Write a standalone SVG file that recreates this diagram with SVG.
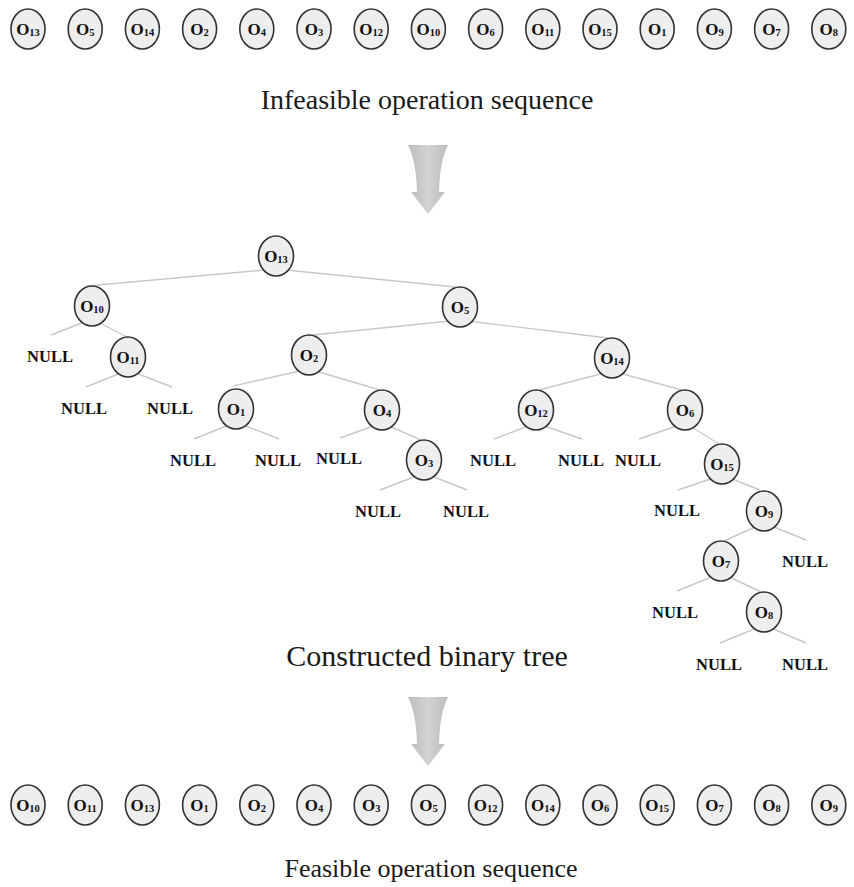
<svg xmlns="http://www.w3.org/2000/svg" width="854" height="887" viewBox="0 0 854 887">
  <style>
    .bg { fill: #ffffff; }
    .node ellipse { fill: #eeeeee; stroke: #333333; stroke-width: 1.6; }
    .lbl { font-family: "Liberation Serif", "Times New Roman", serif; font-weight: bold; font-size: 17px; fill: #111111; text-anchor: middle; }
    .sub { font-size: 10.5px; }
    .null { font-family: "Liberation Serif", "Times New Roman", serif; font-weight: bold; font-size: 16.5px; fill: #111111; text-anchor: middle; }
    .title { font-family: "Liberation Serif", "Times New Roman", serif; font-size: 28px; fill: #1a1a1a; text-anchor: middle; }
    #title-tree { font-size: 30px; }
    #title-out { font-size: 26px; }
    #edges line { stroke: #c8c8c8; stroke-width: 1.4; }
    .arrow { fill: url(#arrowFill); }
  </style>
  <defs>
    <linearGradient id="arrowFill" x1="0" y1="0" x2="1" y2="0">
      <stop offset="0" stop-color="#bcbcbc"/>
      <stop offset="0.5" stop-color="#d2d2d2"/>
      <stop offset="1" stop-color="#bcbcbc"/>
    </linearGradient>
    <path id="downArrow" d="M -20 0 L 20 0 Q 12 15 11 47 L 17 47 L 0 69 L -17 47 L -11 47 Q -12 15 -20 0 Z"/>
  </defs>
  <rect class="bg" x="0" y="0" width="854" height="887"/>

  <!-- input sequence -->
  <g id="seq-top">
    <g id="t1" class="node"><ellipse cx="28" cy="29" rx="17" ry="20"/><text class="lbl" x="28" y="35">O<tspan class="sub" dy="1">13</tspan></text></g>
    <g id="t2" class="node"><ellipse cx="85.2" cy="29" rx="17" ry="20"/><text class="lbl" x="85.2" y="35">O<tspan class="sub" dy="1">5</tspan></text></g>
    <g id="t3" class="node"><ellipse cx="142.4" cy="29" rx="17" ry="20"/><text class="lbl" x="142.4" y="35">O<tspan class="sub" dy="1">14</tspan></text></g>
    <g id="t4" class="node"><ellipse cx="199.6" cy="29" rx="17" ry="20"/><text class="lbl" x="199.6" y="35">O<tspan class="sub" dy="1">2</tspan></text></g>
    <g id="t5" class="node"><ellipse cx="256.8" cy="29" rx="17" ry="20"/><text class="lbl" x="256.8" y="35">O<tspan class="sub" dy="1">4</tspan></text></g>
    <g id="t6" class="node"><ellipse cx="314" cy="29" rx="17" ry="20"/><text class="lbl" x="314" y="35">O<tspan class="sub" dy="1">3</tspan></text></g>
    <g id="t7" class="node"><ellipse cx="371.2" cy="29" rx="17" ry="20"/><text class="lbl" x="371.2" y="35">O<tspan class="sub" dy="1">12</tspan></text></g>
    <g id="t8" class="node"><ellipse cx="428.4" cy="29" rx="17" ry="20"/><text class="lbl" x="428.4" y="35">O<tspan class="sub" dy="1">10</tspan></text></g>
    <g id="t9" class="node"><ellipse cx="485.6" cy="29" rx="17" ry="20"/><text class="lbl" x="485.6" y="35">O<tspan class="sub" dy="1">6</tspan></text></g>
    <g id="t10" class="node"><ellipse cx="542.8" cy="29" rx="17" ry="20"/><text class="lbl" x="542.8" y="35">O<tspan class="sub" dy="1">11</tspan></text></g>
    <g id="t11" class="node"><ellipse cx="600" cy="29" rx="17" ry="20"/><text class="lbl" x="600" y="35">O<tspan class="sub" dy="1">15</tspan></text></g>
    <g id="t12" class="node"><ellipse cx="657.2" cy="29" rx="17" ry="20"/><text class="lbl" x="657.2" y="35">O<tspan class="sub" dy="1">1</tspan></text></g>
    <g id="t13" class="node"><ellipse cx="714.4" cy="29" rx="17" ry="20"/><text class="lbl" x="714.4" y="35">O<tspan class="sub" dy="1">9</tspan></text></g>
    <g id="t14" class="node"><ellipse cx="771.6" cy="29" rx="17" ry="20"/><text class="lbl" x="771.6" y="35">O<tspan class="sub" dy="1">7</tspan></text></g>
    <g id="t15" class="node"><ellipse cx="828.8" cy="29" rx="17" ry="20"/><text class="lbl" x="828.8" y="35">O<tspan class="sub" dy="1">8</tspan></text></g>
  </g>
  <text id="title-in" class="title" x="427" y="109">Infeasible operation sequence</text>

  <use href="#downArrow" class="arrow" x="428" y="145"/>

  <!-- tree connectors -->
  <g id="edges">
    <line x1="276" y1="269" x2="87" y2="286"/>
    <line x1="276" y1="269" x2="455" y2="287"/>
    <line x1="92" y1="319" x2="51" y2="335"/>
    <line x1="92" y1="319" x2="127" y2="337"/>
    <line x1="128" y1="370" x2="86" y2="387"/>
    <line x1="128" y1="370" x2="172" y2="387"/>
    <line x1="460" y1="320" x2="313" y2="335"/>
    <line x1="460" y1="320" x2="608" y2="338"/>
    <line x1="309" y1="369" x2="233" y2="386"/>
    <line x1="309" y1="369" x2="380" y2="390"/>
    <line x1="236" y1="422" x2="194" y2="439"/>
    <line x1="236" y1="422" x2="279" y2="439"/>
    <line x1="382" y1="423" x2="340" y2="438"/>
    <line x1="382" y1="423" x2="421" y2="440"/>
    <line x1="424" y1="473" x2="380" y2="490"/>
    <line x1="424" y1="473" x2="467" y2="490"/>
    <line x1="612" y1="371" x2="539" y2="390"/>
    <line x1="612" y1="371" x2="682" y2="390"/>
    <line x1="536" y1="423" x2="494" y2="439"/>
    <line x1="536" y1="423" x2="582" y2="439"/>
    <line x1="685" y1="423" x2="639" y2="439"/>
    <line x1="685" y1="423" x2="719" y2="444"/>
    <line x1="722" y1="475" x2="678" y2="490"/>
    <line x1="722" y1="475" x2="760" y2="490"/>
    <line x1="764" y1="523" x2="724" y2="541"/>
    <line x1="764" y1="523" x2="806" y2="540"/>
    <line x1="721" y1="573" x2="677" y2="591"/>
    <line x1="721" y1="573" x2="761" y2="592"/>
    <line x1="764" y1="625" x2="720" y2="643"/>
    <line x1="764" y1="625" x2="806" y2="643"/>
  </g>

  <!-- tree nodes -->
  <g id="n13" class="node"><ellipse cx="276" cy="256" rx="17.5" ry="20"/><text class="lbl" x="276" y="262">O<tspan class="sub" dy="1">13</tspan></text></g>
  <g id="n10" class="node"><ellipse cx="92" cy="306" rx="17.5" ry="20"/><text class="lbl" x="92" y="312">O<tspan class="sub" dy="1">10</tspan></text></g>
  <g id="n5" class="node"><ellipse cx="460" cy="307" rx="17.5" ry="20"/><text class="lbl" x="460" y="313">O<tspan class="sub" dy="1">5</tspan></text></g>
  <g id="n11" class="node"><ellipse cx="128" cy="357" rx="17.5" ry="20"/><text class="lbl" x="128" y="363">O<tspan class="sub" dy="1">11</tspan></text></g>
  <g id="n2" class="node"><ellipse cx="309" cy="355" rx="17.5" ry="20"/><text class="lbl" x="309" y="361">O<tspan class="sub" dy="1">2</tspan></text></g>
  <g id="n14" class="node"><ellipse cx="612" cy="358" rx="17.5" ry="20"/><text class="lbl" x="612" y="364">O<tspan class="sub" dy="1">14</tspan></text></g>
  <g id="n1" class="node"><ellipse cx="236" cy="409" rx="17.5" ry="20"/><text class="lbl" x="236" y="415">O<tspan class="sub" dy="1">1</tspan></text></g>
  <g id="n4" class="node"><ellipse cx="382" cy="410" rx="17.5" ry="20"/><text class="lbl" x="382" y="416">O<tspan class="sub" dy="1">4</tspan></text></g>
  <g id="n12" class="node"><ellipse cx="536" cy="410" rx="17.5" ry="20"/><text class="lbl" x="536" y="416">O<tspan class="sub" dy="1">12</tspan></text></g>
  <g id="n6" class="node"><ellipse cx="685" cy="410" rx="17.5" ry="20"/><text class="lbl" x="685" y="416">O<tspan class="sub" dy="1">6</tspan></text></g>
  <g id="n3" class="node"><ellipse cx="424" cy="460" rx="17.5" ry="20"/><text class="lbl" x="424" y="466">O<tspan class="sub" dy="1">3</tspan></text></g>
  <g id="n15" class="node"><ellipse cx="722" cy="464" rx="17.5" ry="20"/><text class="lbl" x="722" y="470">O<tspan class="sub" dy="1">15</tspan></text></g>
  <g id="n9" class="node"><ellipse cx="764" cy="511" rx="17.5" ry="20"/><text class="lbl" x="764" y="517">O<tspan class="sub" dy="1">9</tspan></text></g>
  <g id="n7" class="node"><ellipse cx="721" cy="561" rx="17.5" ry="20"/><text class="lbl" x="721" y="567">O<tspan class="sub" dy="1">7</tspan></text></g>
  <g id="n8" class="node"><ellipse cx="764" cy="612" rx="17.5" ry="20"/><text class="lbl" x="764" y="618">O<tspan class="sub" dy="1">8</tspan></text></g>

  <!-- empty children -->
  <g id="nulls">
    <text class="null" x="50" y="362">NULL</text>
    <text class="null" x="84" y="414">NULL</text>
    <text class="null" x="170" y="414">NULL</text>
    <text class="null" x="193" y="466">NULL</text>
    <text class="null" x="278" y="466">NULL</text>
    <text class="null" x="339" y="464">NULL</text>
    <text class="null" x="378" y="517">NULL</text>
    <text class="null" x="466" y="517">NULL</text>
    <text class="null" x="493" y="466">NULL</text>
    <text class="null" x="581" y="466">NULL</text>
    <text class="null" x="638" y="466">NULL</text>
    <text class="null" x="677" y="516">NULL</text>
    <text class="null" x="805" y="567">NULL</text>
    <text class="null" x="675" y="618">NULL</text>
    <text class="null" x="719" y="670">NULL</text>
    <text class="null" x="805" y="670">NULL</text>
  </g>
  <text id="title-tree" class="title" x="427" y="666">Constructed binary tree</text>

  <use href="#downArrow" class="arrow" x="428" y="697"/>

  <!-- output sequence -->
  <g id="seq-bottom">
    <g id="b1" class="node"><ellipse cx="28" cy="805" rx="17" ry="20"/><text class="lbl" x="28" y="811">O<tspan class="sub" dy="1">10</tspan></text></g>
    <g id="b2" class="node"><ellipse cx="85.2" cy="805" rx="17" ry="20"/><text class="lbl" x="85.2" y="811">O<tspan class="sub" dy="1">11</tspan></text></g>
    <g id="b3" class="node"><ellipse cx="142.4" cy="805" rx="17" ry="20"/><text class="lbl" x="142.4" y="811">O<tspan class="sub" dy="1">13</tspan></text></g>
    <g id="b4" class="node"><ellipse cx="199.6" cy="805" rx="17" ry="20"/><text class="lbl" x="199.6" y="811">O<tspan class="sub" dy="1">1</tspan></text></g>
    <g id="b5" class="node"><ellipse cx="256.8" cy="805" rx="17" ry="20"/><text class="lbl" x="256.8" y="811">O<tspan class="sub" dy="1">2</tspan></text></g>
    <g id="b6" class="node"><ellipse cx="314" cy="805" rx="17" ry="20"/><text class="lbl" x="314" y="811">O<tspan class="sub" dy="1">4</tspan></text></g>
    <g id="b7" class="node"><ellipse cx="371.2" cy="805" rx="17" ry="20"/><text class="lbl" x="371.2" y="811">O<tspan class="sub" dy="1">3</tspan></text></g>
    <g id="b8" class="node"><ellipse cx="428.4" cy="805" rx="17" ry="20"/><text class="lbl" x="428.4" y="811">O<tspan class="sub" dy="1">5</tspan></text></g>
    <g id="b9" class="node"><ellipse cx="485.6" cy="805" rx="17" ry="20"/><text class="lbl" x="485.6" y="811">O<tspan class="sub" dy="1">12</tspan></text></g>
    <g id="b10" class="node"><ellipse cx="542.8" cy="805" rx="17" ry="20"/><text class="lbl" x="542.8" y="811">O<tspan class="sub" dy="1">14</tspan></text></g>
    <g id="b11" class="node"><ellipse cx="600" cy="805" rx="17" ry="20"/><text class="lbl" x="600" y="811">O<tspan class="sub" dy="1">6</tspan></text></g>
    <g id="b12" class="node"><ellipse cx="657.2" cy="805" rx="17" ry="20"/><text class="lbl" x="657.2" y="811">O<tspan class="sub" dy="1">15</tspan></text></g>
    <g id="b13" class="node"><ellipse cx="714.4" cy="805" rx="17" ry="20"/><text class="lbl" x="714.4" y="811">O<tspan class="sub" dy="1">7</tspan></text></g>
    <g id="b14" class="node"><ellipse cx="771.6" cy="805" rx="17" ry="20"/><text class="lbl" x="771.6" y="811">O<tspan class="sub" dy="1">8</tspan></text></g>
    <g id="b15" class="node"><ellipse cx="828.8" cy="805" rx="17" ry="20"/><text class="lbl" x="828.8" y="811">O<tspan class="sub" dy="1">9</tspan></text></g>
  </g>
  <text id="title-out" class="title" x="431" y="877">Feasible operation sequence</text>
</svg>
